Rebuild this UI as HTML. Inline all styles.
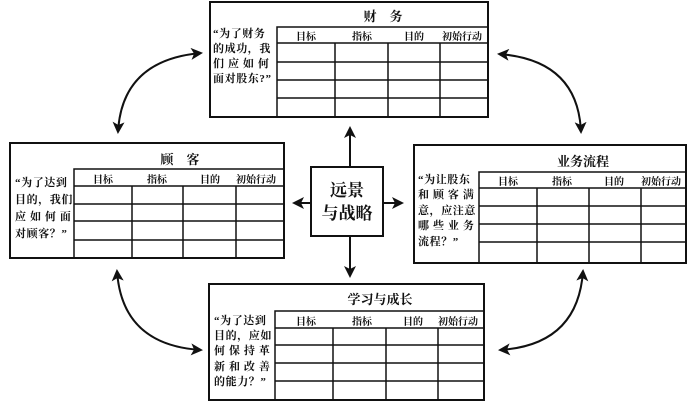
<!DOCTYPE html>
<html><head><meta charset="utf-8"><style>
html,body{margin:0;padding:0;background:#fff;}
svg{display:block;font-family:"Liberation Serif","Noto Serif CJK SC","Noto Sans CJK SC",serif;}
.q{font-size:11px;font-weight:bold;letter-spacing:0.6px;}
.h{font-size:10px;font-weight:bold;}
.t{font-size:13px;font-weight:bold;}
</style></head><body>
<svg width="690" height="404" viewBox="0 0 690 404" xmlns="http://www.w3.org/2000/svg">
<defs>
<marker id="b" markerWidth="12" markerHeight="12" refX="10" refY="6" orient="auto-start-reverse" markerUnits="userSpaceOnUse"><path d="M0,0 L12,6 L0,12 L3,6 Z" fill="#111"/></marker></defs>
<g stroke="#111" fill="none" stroke-width="2">
<rect x="210" y="2" width="278" height="115"/>
<path d="M277 117V27H488M277 43H488M277 62H488M277 80H488M277 98H488M335 43V117M388 43V117M440 43V117" stroke-width="1.5"/>
<rect x="10" y="143" width="274" height="115"/>
<path d="M74 258V169H284M74 186H284M74 204H284M74 221H284M74 240H284M132 186V258M183 186V258M236 186V258" stroke-width="1.5"/>
<rect x="414" y="145" width="272" height="118"/>
<path d="M479 263V172H686M479 188H686M479 206H686M479 224H686M479 242H686M537 188V263M589 188V263M641 188V263" stroke-width="1.5"/>
<rect x="209" y="284" width="275" height="116"/>
<path d="M275 400V311H484M275 328H484M275 345H484M275 363H484M275 381H484M333 328V400M386 328V400M438 328V400" stroke-width="1.5"/>
<rect x="311" y="167" width="72" height="69"/>
<path d="M350 167V128" marker-end="url(#b)"/>
<path d="M350 236V276" marker-end="url(#b)"/>
<path d="M311 203H294" marker-end="url(#b)"/>
<path d="M383 203H402" marker-end="url(#b)"/>
<path d="M118 132 Q122 60 201 53" marker-end="url(#b)" marker-start="url(#b)"/>
<path d="M499 54 Q578 60 581 132" marker-end="url(#b)" marker-start="url(#b)"/>
<path d="M117 271 Q122 345 201 350" marker-end="url(#b)" marker-start="url(#b)"/>
<path d="M500 350 Q578 345 583 271" marker-end="url(#b)" marker-start="url(#b)"/>
</g>
<g fill="#111">
<text class="t" x="383" y="21" text-anchor="middle">财　务</text>
<text class="h" x="296" y="40">目标</text><text class="h" x="352" y="40">指标</text><text class="h" x="404" y="40">目的</text><text class="h" x="442" y="40">初始行动</text>
<text class="q" x="213" y="37">“为了财务</text><text class="q" x="213" y="52">的成功，我</text><text class="q" x="213" y="67">们 应 如 何</text><text class="q" x="213" y="82">面对股东?”</text>

<text class="t" x="180" y="164" text-anchor="middle">顾　客</text>
<text class="h" x="93" y="183">目标</text><text class="h" x="147" y="183">指标</text><text class="h" x="200" y="183">目的</text><text class="h" x="236" y="183">初始行动</text>
<text class="q" x="15" y="186">“为了达到</text><text class="q" x="15" y="203">目的，我们</text><text class="q" x="15" y="220">应 如 何 面</text><text class="q" x="15" y="237">对顾客？”</text>

<text class="t" x="583" y="166" text-anchor="middle">业务流程</text>
<text class="h" x="498" y="185">目标</text><text class="h" x="552" y="185">指标</text><text class="h" x="604" y="185">目的</text><text class="h" x="641" y="185">初始行动</text>
<text class="q" x="418" y="183">“为让股东</text><text class="q" x="418" y="198">和 顾 客 满</text><text class="q" x="418" y="214">意，应注意</text><text class="q" x="418" y="229">哪 些 业 务</text><text class="q" x="418" y="245">流程？”</text>

<text class="t" x="380" y="304" text-anchor="middle">学习与成长</text>
<text class="h" x="296" y="325">目标</text><text class="h" x="352" y="325">指标</text><text class="h" x="403" y="325">目的</text><text class="h" x="438" y="325">初始行动</text>
<text class="q" x="214" y="324">“为了达到</text><text class="q" x="214" y="339">目的，应如</text><text class="q" x="214" y="354">何 保 持 革</text><text class="q" x="214" y="370">新 和 改 善</text><text class="q" x="214" y="385">的能力？”</text>

<text x="347" y="196" font-size="17" font-weight="bold" text-anchor="middle">远景</text>
<text x="347" y="219" font-size="17" font-weight="bold" text-anchor="middle">与战略</text>
</g>
</svg>
</body></html>
